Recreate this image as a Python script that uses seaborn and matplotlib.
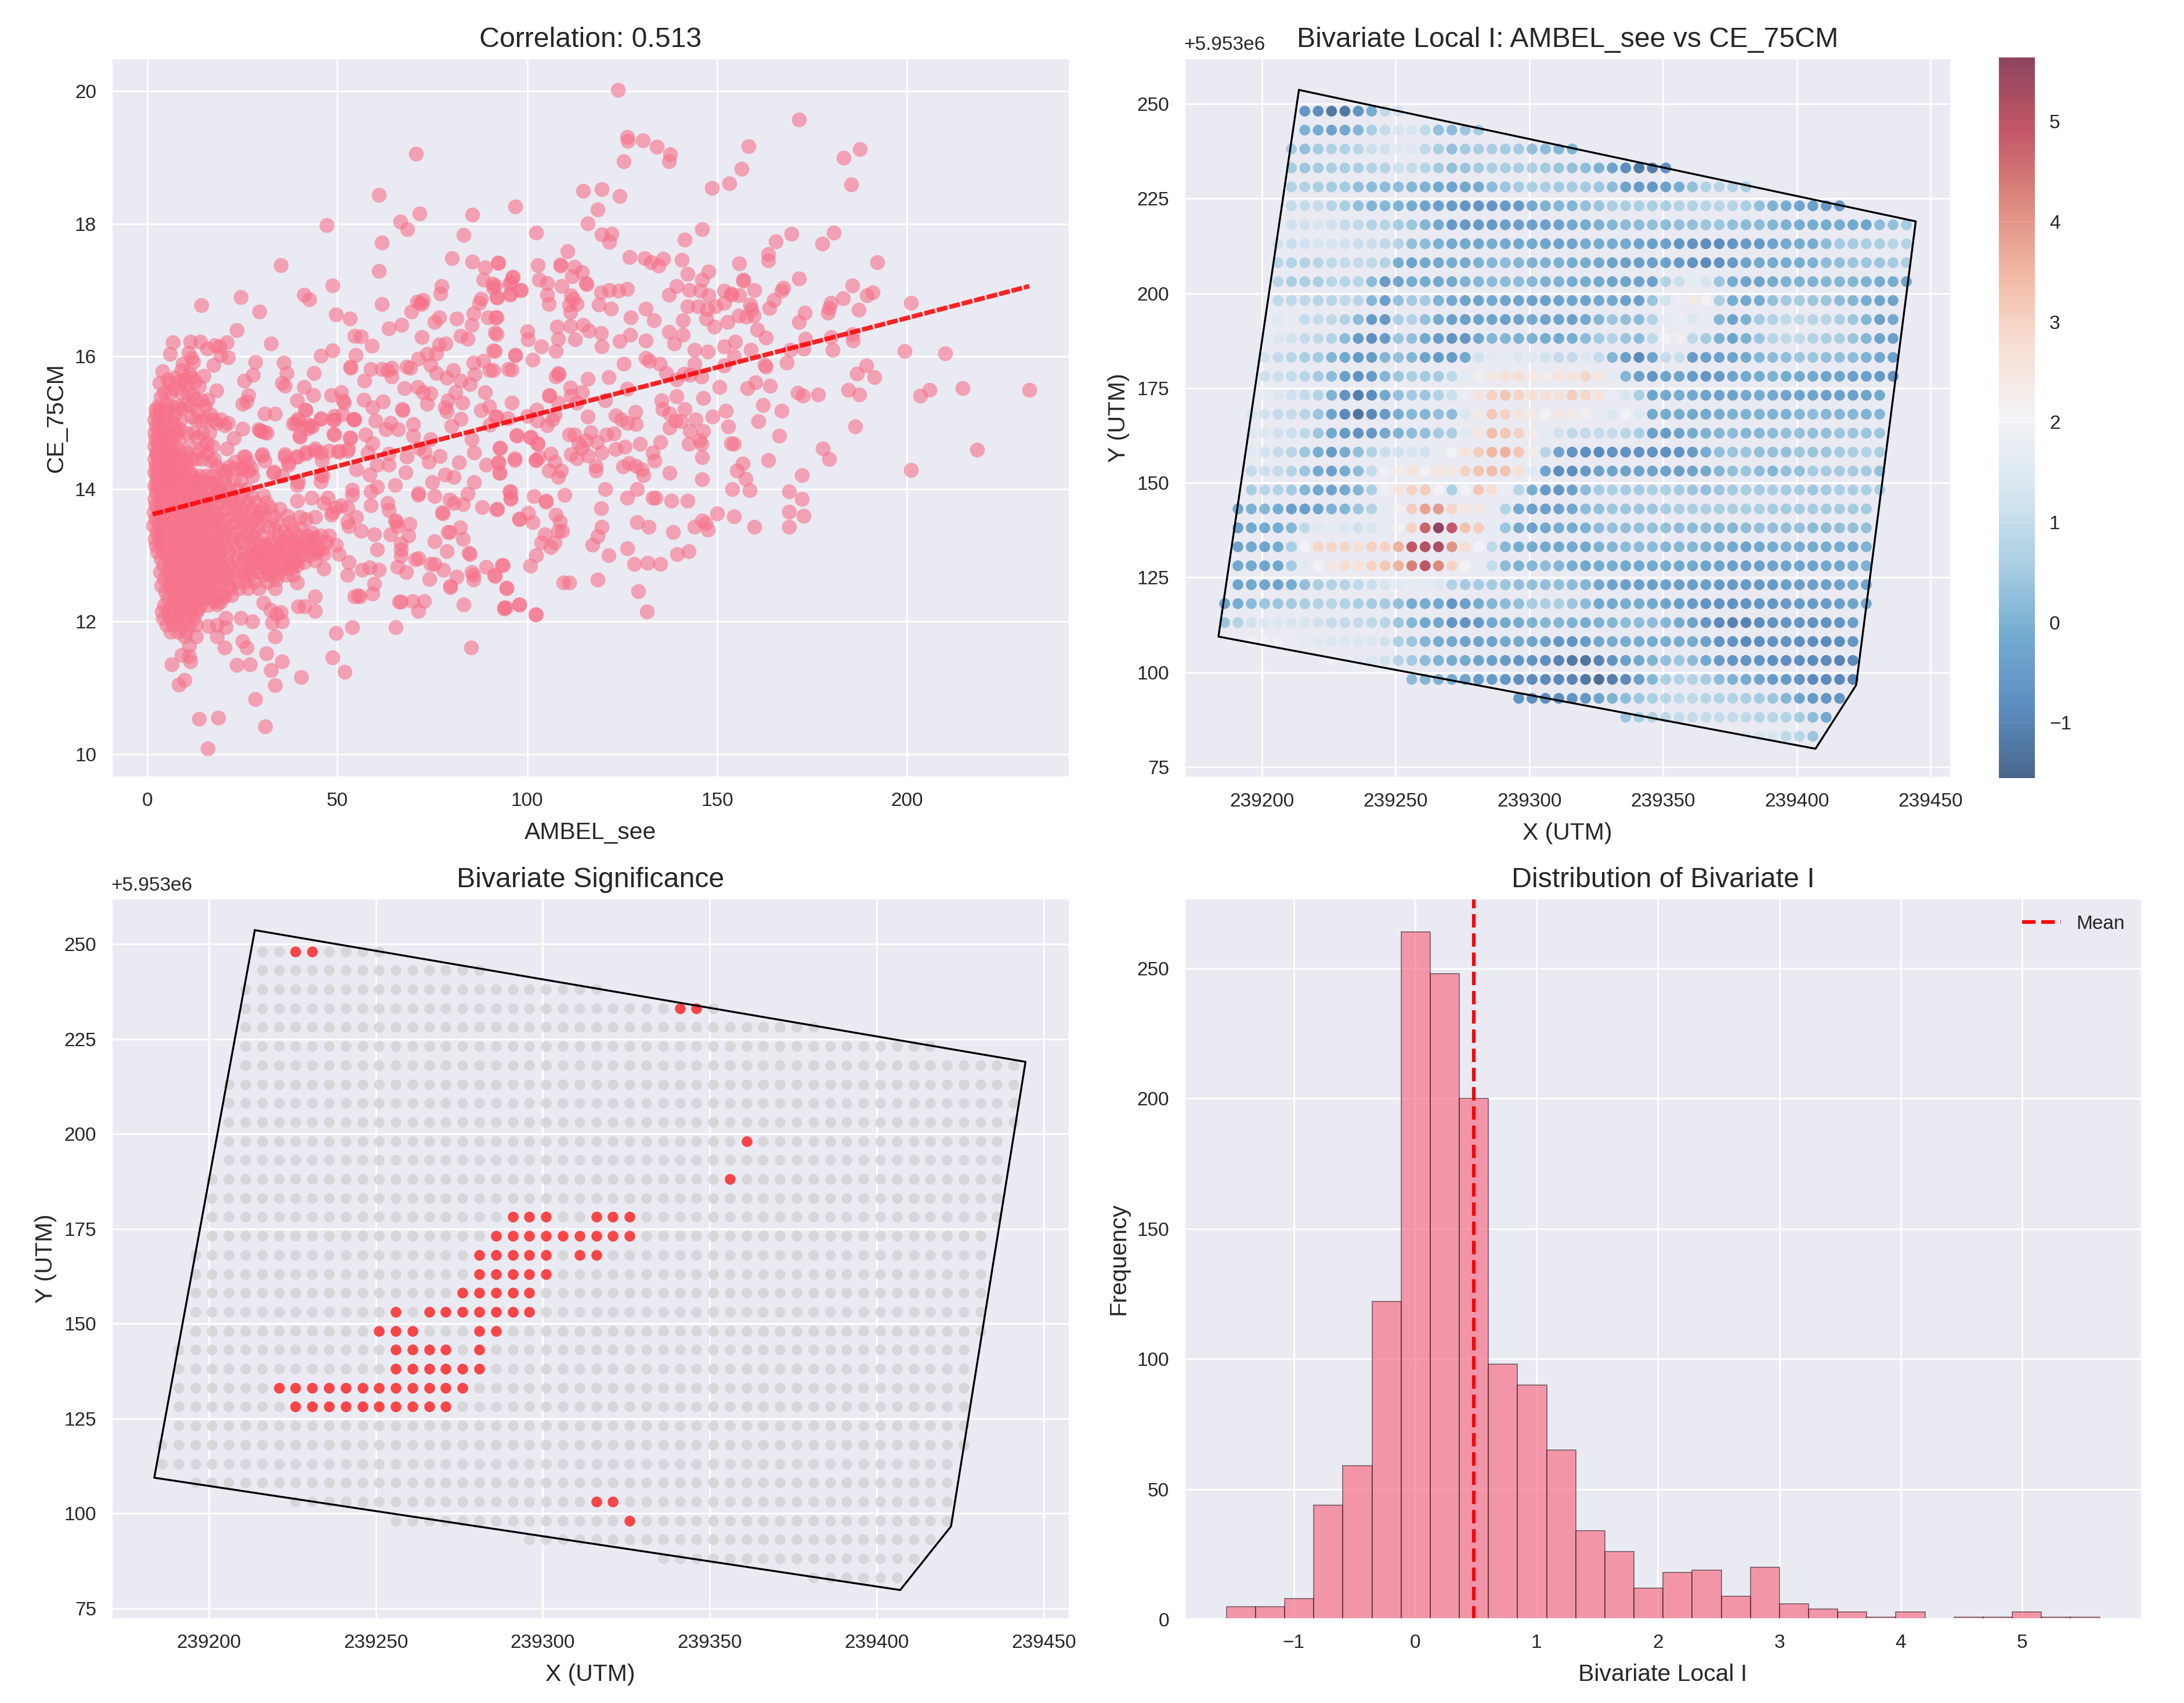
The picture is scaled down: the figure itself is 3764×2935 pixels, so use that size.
import numpy as np
import pandas as pd
import seaborn as sns
import matplotlib
matplotlib.use("Agg")
import matplotlib.pyplot as plt
from matplotlib.cm import ScalarMappable
from matplotlib.colors import Normalize

# ---------- panel 1: scatter points ----------
upper_points = [
(123.9,20.02),(171.6,19.57),(126.3,19.31),(126.5,19.25),(130.4,19.26),(134.2,19.16),(137.6,19.05),(137.3,18.94),(125.5,18.94),(158.2,19.17),
(156.4,18.83),(153.3,18.61),(148.7,18.54),(187.6,19.13),(183.3,19.0),(185.3,18.59),(114.8,18.5),(119.7,18.52),(124.3,18.42),(118.6,18.22),
(116,18.01),(96.9,18.26),(102.3,17.87),(119.6,17.84),(122.3,17.85),(121.6,17.73),(146.1,17.92),(141.5,17.76),(169.6,17.85),(165.5,17.74),
(180.7,17.87),(177.6,17.7),(163.5,17.54),(163.5,17.45),(110.6,17.59),(127,17.5),(130.9,17.48),(132.6,17.42),(135.8,17.47),(134.6,17.37),
(140.7,17.46),(192.2,17.42),(155.9,17.4),(92.5,17.41),(102.9,17.38),(108.8,17.39),(108.8,17.37),(112.4,17.35),(114.5,17.27),(111.8,17.21),
(171.6,17.18),(96.1,17.19),(147.8,17.28),(142.3,17.25),(156.9,17.16),(156.9,17.14),(185.6,17.07),(103.2,17.16),(105.2,17.11),(115.5,17.11),
(115.7,17.09),(95.4,17.09),(91.5,17.07),(139.3,17.06),(146.1,17.16),(142.7,17.0),(145.6,16.99),(151.8,16.99),(153.7,16.95),(153.9,16.93),
(159.8,17.0),(167.5,17.04),(167,16.99),(191,16.97),(189.5,16.92),(183.1,16.88),(126.3,17.02),(124,16.99),(121.6,17.0),(119.4,16.97),
(98.3,17.0),(95.5,16.93),(92,16.9),(109.1,17.06),(105.2,16.93),(105.7,16.79),(111.6,16.92),(112.1,16.87),(113.1,16.79),(111.1,16.78),
(111.4,16.67),(118.9,16.78),(122.1,16.72),(137.3,16.93),(147.8,16.92),(155.9,16.92),(165,16.85),(163.7,16.73),(179.9,16.81),(179.5,16.73),
(179.2,16.66),(187.3,16.7),(201,16.81),(142.3,16.76),(145,16.76),(149.6,16.76),(151.8,16.81),(147.4,16.71),(131.2,16.72),(158.8,16.78),
(159.1,16.71),(159.6,16.62),(157.6,16.6),(155.7,16.62),(173.1,16.66),(171.6,16.52),(127.3,16.59),(133.4,16.55),(141,16.55),(147.1,16.57),
(152.7,16.52),(149.3,16.45),(160.6,16.41),(162.8,16.28),(92,16.59),(107.8,16.45),(111.4,16.46),(114.7,16.48),(116.3,16.39),(119.4,16.35),
(100,16.38),(100.3,16.26),(92,16.34),(137.3,16.37),(141,16.33),(138.7,16.2),(127.1,16.33),(124.3,16.23),(108.1,16.27),(112.6,16.26),
(119.7,16.15),(131.2,16.24),(103.7,16.15),(107.6,16.08),(96.9,16.02),(91.5,16.08),(101.5,15.95),(154.7,16.22),(151.8,16.15),(144.1,16.1),
(147.6,16.07),(158.9,16.1),(173.3,16.27),(172.8,16.12),(169.2,16.1),(179.9,16.29),(180.4,16.1),(185.6,16.34),(185.8,16.24),(199.3,16.08),
(210,16.05),(131.2,15.98),(132.2,15.93),(134.9,15.89),(125.5,15.89),(154.5,16),(151.8,15.86),(144.1,15.89),(162.5,15.87),(162.8,15.85),
(168.4,15.91),(95.9,15.8),(91,15.79),(108.1,15.75),(108.3,15.73),(107.6,15.7),(116,15.66),(121.4,15.69),(136.6,15.75),(189.3,15.86),
(186.8,15.74),(191.4,15.69),(139.3,15.65),(141.3,15.74),(145.9,15.7),(142.9,15.72),(150.6,15.54),(160.1,15.61),(157.9,15.52),(164,15.56),
(111.4,15.53),(114.5,15.46),(105.9,15.42),(126.3,15.51),(171.2,15.45),(172.7,15.41),(176.6,15.43),(184.6,15.5),(187.5,15.43),(205.9,15.5),
(203.5,15.41),(214.7,15.52),(232.2,15.5),(146.4,15.37),(139.3,15.4),(135.4,15.34)]

right_low_points = [
(162.1,15.27),(167,15.18),(152.3,15.18),(148.8,15.09),(135.6,15.21),(137.5,15.14),(141.5,15.21),(139,15.03),(140.5,15.02),(144.4,15.05),
(137.5,14.93),(128.5,15.16),(128.7,14.98),(123.3,15.11),(124.8,15.05),(126.3,15),(116,15.09),(160.9,15.02),(152.9,14.94),(186.4,14.94),
(166.3,14.8),(142.9,14.87),(146.4,14.87),(145.4,14.73),(142.5,14.68),(145.9,14.68),(153.7,14.69),(154.5,14.68),(177.9,14.61),(179.5,14.45),
(218.4,14.59),(201,14.29),(163.5,14.44),(156.7,14.38),(155.2,14.28),(157.5,14.16),(158.6,13.98),(154,14),(146.1,14.48),(146.1,14.15),
(137.5,14.24),(172.4,14.21),(168.9,13.96),(172.4,13.85),(168.9,13.66),(172.8,13.6),(168.9,13.43),(159.8,13.43),(154.5,13.59),(150.1,13.63),
(146.1,13.53),(146.9,13.48),(147.6,13.39),(144.1,13.43),(138.4,13.35),(132,13.43),(128.9,13.5),(119.7,13.43),(118.6,13.29),(117.2,13.16),
(126.3,13.11),(121.4,13),(139.5,13.02),(142.6,13.06),(128.2,12.87),(131.7,12.89),(135.1,12.87),(118.6,12.63),(109.6,12.59),(111.1,12.59),
(129.2,12.46),(131.5,12.15),(94.6,12.5),(102.3,12.11),(98,12.26),(93.9,12.21),(94.4,12.21),(100.8,12.84),(93.4,12.85),(102.3,13),
(91.5,12.69),(133.8,13.87),(133.1,13.87),(138,13.82),(142.3,13.82),(126.3,13.87),(128.9,14),(120.5,14),(119.4,13.71),(109.8,13.91),
(105,13.82),(105,13.81),(101.8,13.89),(95.4,13.96),(95.7,13.85),(92,13.69),(98,13.55),(100.3,13.64),(101.5,13.5),(107.6,13.61),
(108.6,13.51),(109.3,13.37),(108.1,13.37),(104.7,13.32),(103.7,13.19),(106.2,13.12),(107.2,13.19),(130.2,14.3),(130.7,14.21),(128.7,14.35),
(126.8,14.39),(125.3,14.34),(133.6,14.43),(133.1,14.55),(135.1,14.71),(129.7,14.68),(125.8,14.64),(123.3,14.6),(118.1,14.28),(118.1,14.35),
(113.5,14.69),(114.5,14.62),(116,14.51),(113,14.46),(111.6,14.52),(115.5,14.73),(116.8,14.86),(118.4,14.71),(119.7,14.55),(111.1,14.82),
(112.5,14.82),(120.9,14.82),(122.8,14.84),(100.8,14.78),(97.4,14.8),(102.9,14.68),(92.9,14.62),(106.2,14.53),(102.3,14.44),(103.2,14.48),
(107.2,14.41),(105.7,14.28),(108.1,14.18),(108.9,14.28),(96.7,14.44),(96.7,14.46),(92.5,14.39),(92.7,14.24),(106.7,15.05),(107.2,15.12),
(105.2,14.96),(102.7,15.03),(102.5,15.2),(105.7,15.41),(111.6,15.41),(108.1,15.3),(113,15.3),(120.6,15.34),(94.9,15.07),(92,15.09)]

left_upper_points = [
(70.8,19.06),(61,18.44),(71.6,18.16),(85.6,18.14),(66.6,18.03),(68.4,17.92),(47.2,17.98),(61.7,17.72),(83.2,17.83),(35.2,17.38),
(61,17.29),(80.2,17.48),(85.6,17.43),(88.9,17.34),(92.3,17.41),(96.2,17.2),(95.6,17.12),(98.4,17),(48.8,17.07),(77.5,17.06),
(77.1,16.95),(72.6,16.85),(71.8,16.81),(71,16.83),(72.2,16.79),(41.2,16.93),(42.7,16.86),(24.6,16.9),(14.3,16.77),(29.5,16.68),
(61.7,16.79),(88.5,17.16),(90.9,17.1),(91,17.04),(87.8,16.87),(87.4,16.81),(92.1,16.89),(95.6,16.95),(69.6,16.68),(49.6,16.63),
(53.3,16.57),(76.9,16.59),(75.7,16.52),(81.4,16.57),(85.8,16.65),(85.4,16.48),(89.7,16.59),(91.7,16.59),(23.5,16.4),(63.6,16.42),
(67,16.48),(54.6,16.31),(56.2,16.3),(72.3,16.29),(91.5,16.36),(32.6,16.2),(59.1,16.16),(82.5,16.31),(84.3,16.27),(78.6,16.2),
(76.9,16.18),(91.1,16.09),(96.9,16.02),(45.7,16.01),(48.8,16.09),(54.9,16.02),(73.6,16.04),(76.1,16.05),(71.4,15.97),(28.4,15.92),
(35.9,15.91),(53.5,15.85),(53.5,15.83),(58.9,15.81),(61.7,15.81),(63.2,15.79),(64.4,15.83),(68.3,15.85),(69.2,15.83),(74.5,15.87),
(76.1,15.75),(85.8,15.91),(88.5,15.93),(86.2,15.73),(90.1,15.79),(95,15.81),(80.6,15.79),(78.8,15.68),(82.5,15.64),(85,15.58),
(43.9,15.75),(36.7,15.75),(27.9,15.72),(25.6,15.64),(35.5,15.6),(36.3,15.56),(57.1,15.64),(64.4,15.7),(41.2,15.54),(43.7,15.42),
(67.7,15.52),(71.2,15.54),(72.6,15.46),(74.5,15.44),(73.7,15.29),(79.2,15.34),(81.1,15.46),(78.4,15.23),(78.8,15.17),(88.9,15.46),
(87.8,15.19),(48.4,15.42),(51.1,15.46),(51.5,15.34),(51.8,15.3),(39.4,15.34),(26.6,15.42),(26.2,15.32),(25,15.29),(41.6,15.2),
(59.3,15.23),(67.1,15.21),(67.2,15.19),(30.9,15.14),(33.6,15.14),(39,14.99),(39.8,15.03),(42.9,14.95),(42.2,14.91),(49.2,15.05),
(45.7,15.07),(54.5,15.05),(60.1,15.03),(62.8,14.9),(82.5,15.06),(91.7,15.09),(90.1,14.97)]

cluster_top_points = [
(6.8,16.21),(11.3,16.22),(13.9,16.22),(17.7,16.17),(19,16.15),(21,16.21),(15.7,16.12),(6,16.04),(10.8,16.06),(11.6,15.98),
(19.3,16.02),(21.3,15.99),(17.5,15.87),(12.1,15.92),(9.3,15.89),(3.97,15.78),(14.8,15.71),(3.2,15.6),(9,15.79),(11.1,15.74),
(7.5,15.69),(12.6,15.63),(10.1,15.57),(6,15.6),(13.6,15.55),(18.2,15.49),(11.6,15.69),(8.6,15.63),(7,15.51),(4.5,15.45),
(3.5,15.39),(12.6,15.36),(14.2,15.34),(15.9,15.35),(11.9,15.42),(2.7,15.25),(5,15.28),(2.4,15.13),(4.7,15.1),(7.3,15.13),
(9.1,15.22),(13.1,15.19),(16.7,15.13),(11.6,15.09),(14.2,15.03),(10.1,15.28),(18.2,15),(21.3,15),(20.3,14.96),(25.1,14.91),
(22.8,14.77),(21,14.61),(29.4,14.9),(31.5,14.85),(30,14.87),(2.9,14.9),(5.3,14.84),(2.9,14.69),(5,14.58),(8.6,14.9),
(2.4,14.52),(7.5,14.52),(13.1,14.78),(15.7,14.69),(13.6,14.58),(11.6,14.46),(10.1,14.43),(15.7,14.55),(16.7,14.43),(2.9,14.37),
(5.9,14.34),(2.4,14.23),(5.5,14.2),(8.6,14.23),(11.6,14.23),(13.6,14.11),(2.4,14.05),(6.5,14.05),(10.1,14.02),(12.1,14),
(18.2,14.34),(19.8,14.29),(18,14.11),(18.2,14),(25.9,14.49),(24.9,14.31),(27.4,14.31),(26.4,14.4),(23.3,14.31),(22.8,14.14),
(30.2,14.52),(30.9,14.43),(36.3,14.52),(37.1,14.4),(39.4,14.49),(41.7,14.56),(44.2,14.61),(45.7,14.55),(47.8,14.58),(50.3,14.58),
(52.9,14.61),(46,14.43),(46.2,14.2),(33.3,14.26),(35.5,14.2),(39.8,14.11),(49,14.83),(53.4,14.78),(40.1,14.8),(38.3,14.99),
(39.6,15.06),(41.7,15.19),(42.4,14.97),(43.4,14.94),(45.7,15.06),(49,15.04),(54.4,15.06),(51.3,15.13)]

lower_points = [
(15.9,10.09),(13.6,10.53),(18.6,10.55),(31,10.42),(28.4,10.83),(8.3,11.05),(9.8,11.12),(6.5,11.36),(33.7,11.04),(40.5,11.16),
(32.6,11.27),(35.5,11.4),(51.9,11.24),(48.8,11.46),(23.5,11.35),(27,11.36),(31.3,11.52),(85.2,11.61),(11.4,11.4),(11,11.48),
(9,11.5),(11,11.64),(9.8,11.78),(12.9,11.78),(20.3,11.61),(18.4,11.78),(25,11.71),(26.2,11.61),(33.6,11.78),(16.1,11.93),
(18.4,11.95),(20.7,12.06),(20.7,11.92),(24.6,12.06),(27.6,12),(32.8,11.99),(35.5,12),(35.2,12.14),(49.6,11.83),(54,11.92),
(65.4,11.92),(71.4,12.16),(72.9,12.31),(69.8,12.31),(66.3,12.3),(66.7,12.3),(56,12.38),(55.4,12.4),(54.6,12.38),(59.3,12.42),
(59.7,12.57),(83.2,12.26),(94,12.2),(98,12.26),(102.2,12.11),(94.6,12.51),(79.8,12.52),(79.8,12.54),(74.3,12.64),(81.4,12.68),
(85.8,12.7),(85.8,12.63),(85.4,12.75),(91.3,12.7),(89.3,12.83),(93.6,12.85),(78,12.78),(75.7,12.87),(74.5,12.87),(65.8,12.83),
(68.1,12.75),(58.5,12.82),(60.9,12.78),(56.6,12.78),(52.7,12.7),(53.1,12.9),(46.5,12.8),(44.1,12.92),(39.4,12.59),(44.1,12.38),
(44.1,12.16),(41.4,12.23),(39.8,12.23),(30.5,12.28),(32.4,12.18),(34,12.12),(29.3,12.5),(33.6,12.5),(34,12.63),(34.4,12.71),
(20.3,12.38),(18.4,12.26),(13.3,12.19),(30.9,12.82),(28.5,12.89),(29.3,12.75),(39.4,12.85),(37.5,12.85),(39.4,12.92),(71.4,12.96),
(70.6,12.94),(66.7,13.09),(66.7,12.99),(60.5,13.09),(50.4,13.02),(44.5,13.04),(46.5,13.02),(78.8,13.06),(84.6,13.04),(83.1,13.25),
(85,13.02),(75.7,13.21),(79.2,13.35),(82.3,13.42),(79.6,13.35),(68.7,13.3),(66.7,13.18),(59.7,13.32),(64,13.32),(65.9,13.44),
(65.6,13.51),(69.1,13.47),(56.2,13.37),(53.1,13.44),(55,13.58),(65.2,13.53),(63.6,13.68),(63.2,13.79),(52.7,13.72),(51.1,13.75),
(48.8,13.65),(77.6,13.65),(77.7,13.63),(80.7,13.79),(83.1,13.77),(79.6,13.84),(88.2,13.73),(92.1,13.7),(84.3,13.93),(75.7,13.89),
(71.4,13.94),(71.4,13.91),(65.2,14.06),(58.9,13.96),(60.5,14.03),(58.9,13.75),(58.5,14.22),(53.9,13.99),(53.9,13.91),(95.6,13.96),
(95.6,13.87),(97.9,13.54),(43.3,13.87),(47.6,13.87),(46.5,13.79),(49.6,13.72),(44.1,13.58),(41.8,13.54),(39.4,13.82),(39.4,14.06),
(48.4,13.61),(45.7,14.11),(45.7,14.22),(40.2,13.58),(43.3,13.34),(52.7,13.51),(32.4,13.72),(34.8,13.7),(28.9,13.58),(29.3,13.65),
(32,13.42),(36.3,13.37),(38.7,13.2),(40.2,13.13),(37.1,13.16),(35.5,13.2),(41.8,13.16),(42.6,13.23),(44.1,13.27),(45.7,13.3),
(44.9,13.09),(49.6,13.16),(30.9,13.16),(32.4,13.2),(30.1,13.02),(28.5,13.02),(31.6,12.95),(34,13.02),(37.1,12.99),(38.7,12.89),
(35.5,12.89),(23.1,14.41),(25.4,14.49),(26.6,14.27),(27.7,14.2),(30.1,14.51),(20.7,14.27),(21.5,14.34),(25,14.3),(24.6,14.13),
(33.2,14.24),(36.3,14.49),(37.1,14.37),(39.4,14.49),(41.8,14.53),(44.1,14.58),(50.4,14.56),(52.7,14.58),(53.5,14.77),(57.4,14.82),
(59.3,14.69),(60.5,14.37),(63.6,14.37),(63.6,14.53),(68.3,14.49),(73,14.56),(74.1,14.41),(74.5,14.75),(78.4,14.22),(80.7,14.18),
(85.4,14.75),(92.8,14.62),(92.5,14.41),(89.3,14.37),(92.8,14.24),(97.1,14.81),(101,14.79),(102.6,14.69),(102.2,14.44),(49.2,14.82),
(49.2,15.1),(54.2,15.05),(30.9,14.86),(29.7,14.88),(40.2,14.79),
(62,15.32),(66,14.9),(70,14.98),(58,14.55),(80,14.95),(86,14.55),(75,14.1),(68,14.25),(86,14.1),(57,15.35),
(64,15),(71.5,14.62),(83,15.3),(90,15.25),(96,15.3),(100,15.1),(55,14.3),(70,14.8),(77,14.5),(82,14.4)]

dense_levels = [15.2,15.05,14.95,14.85,14.75,14.65,14.55,14.45,14.35,14.25,14.15,14.05,13.95,13.85,13.75,13.65,13.55,13.45,13.35,13.25,
                13.15,13.05,12.95,12.85,12.75,12.65,12.55,12.45,12.35,12.25,12.15,12.05,11.95,11.85]
dense_ambel = [
[2.1,3.4,5.2],[1.9,3.1,4.4,6.1],[2.3,3.6,5.1,7.2],[1.8,2.9,4.2,5.7,7.9],[2.2,3.3,4.8,6.4,8.3],[1.9,3,4.1,5.6,7.4],
[2.4,3.5,5,6.7,8.4,10.2],[1.8,2.9,4.3,5.8,7.6,9.3],[2.2,3.4,4.9,6.2,8.1,10.4],[1.9,3.1,4.6,6.5,7.8,9.7,11.2],
[2.5,3.7,5.3,7,8.8,10.6,12.9],[1.8,3,4.4,6,7.7,9.4,11.8,13.6],[2.3,3.5,5.1,6.8,8.5,10.2,12.1,14.3,15.8],
[1.9,3.2,4.7,6.3,8,9.9,11.5,13.2,15.1,17],[2.1,3.6,5.4,7.1,8.8,10.7,12.6,14.5,16.4,18.2],
[1.7,3,4.5,6.1,7.9,9.6,11.4,13.3,15.4,17.3,19.2],[2.2,3.8,5.5,7.3,9.1,11,12.8,14.7,16.6,18.5,20.6],
[1.6,2.9,4.3,6,7.8,9.9,11.9,13.8,15.8,17.7,19.6,21.8],[2.4,3.9,5.6,7.5,9.3,11.2,13,15,16.9,18.9,20.8,22.9],
[2,3.3,4.8,6.6,8.4,10.3,12.4,14.2,16.1,18,20,22.1,24.3],[2.3,3.7,5.4,7.2,9,11,12.9,14.8,16.7,18.6,20.7,23],
[2.6,4.1,6,7.9,9.7,11.6,13.6,15.5,17.4,19.3,21.4,24,26],[3.5,5.6,7.4,9.4,11.3,13.1,15.2,17.1,19,21,23.4,25.6],
[4.2,6.2,8.1,10,12,13.9,15.8,17.8,19.8,21.9,24.2],[3.4,5.4,7.3,9.2,11.1,13,15,16.9,18.9,20.9,23,25.1],
[4.5,6.3,8.2,10.3,12.2,14.1,16,18,20,22],[3.7,5.8,7.7,9.6,11.5,13.5,15.4,17.3,19.4,21.4],
[4.8,6.7,8.6,10.6,12.5,14.4,16.3,18.3],[5.4,7.4,9.3,11.3,13.2,15.1,17],[4.5,6.3,8.2,10.1,12.1,14,15.9],
[3.8,5.5,7.2,9.1,11.2,13],[4.2,6.1,8,10,12.2],[5,6.9,9,11,12.8],[6.2,8,10.2]]

outer_levels = [15.65,15.45,15.25,15.05,14.85,14.65,14.45,14.2,14.1,14.0,13.9,13.8,13.7,13.6,13.5,13.4,13.3,13.2,13.1,13.0,12.9,12.8,12.7,12.6,12.5,12.4,12.3]
outer_ambel = [
[5.3,9.8],[6.1,8.9,10.6],[6.4,8.2,11.3,15.1],[8.8,12.7,15.4,17.4,19.4],[10.4,12.2,14.6,16.3],[11.2,14.8,17.1],[12.9,14.4,17.6],[13.8,15.5,17.1,20.6],
[15.2,17.5,20.2],[16.5,19.1,21.4,23.6,26.2],[18.9,20.7,22.5,24.8,27.3,30.5],[20,22.1,24,26.2,28.4,31.3],[21,23.2,25.3,27.5,30.1],
[22.4,24.5,26.6,30.7,33.2,36.9],[23.4,25.6,27.7,29.9,34.1,37.5],[24.6,26.8,28.9,33.4,38.2,40.4],[25.8,27.9,30.2,34.5,36.9,39.7,42.1,47.8],
[25.1,27.2,29.1,33.5,36.1,39.2,43.9,47.2],[27.8,29.6,31.9,34.2,36.6,38.9,41.1,43.2,46.1],[26.9,28.9,31.2,33.3,35.8,38.1,40.5,42.6],
[27.5,29.8,32.2,34.7,36.8,41.2],[26.3,27.9,31.5,33.5,35.4,37.9],[25.6,27.1,30.7,32.4,36.6,38.3],[23.6,25.9,28.2,31.5],[21.8,24.2,26.4],[19.7,22.1],[17.9,19.3]]

line_slope = 0.0149
line_intercept = 13.6

# ---------- panel 2 / 3: 5 m grid, values ----------
first_col = [0,0,-1,-1,-1,-1,-1,-2,-2,-2,-2,-2,-3,-3,-3,-3,-4,-4,-4,-4,-4,-5,-5,-5,-5,-5,-6,-6,-4,2,8,16,24,33]
local_i = [
[-.6,-.8,-1.2,-1.2,-.7,-.1,.9,1.2],
[0,-.1,-.3,-.2,.1,.6,1,1.3,1.3,.9,.3,.2,.4,.5],
[.5,.3,.5,.7,.7,.8,1.1,1.2,1.5,1.4,.9,.6,.3,.5,.6,.6,.5,.5,.3,.2,.1,0],
[.5,.4,.5,.6,.6,.6,.7,.8,1.1,1,.8,.5,.3,.4,.5,.6,.6,.6,.6,.5,.4,.3,.2,0,-.3,-.8,-1.2,-1.1,-.8],
[.7,.7,.6,.5,.5,.3,.2,.2,.2,.1,0,-.2,-.3,-.2,-.1,.2,.4,.5,.6,.6,.5,.5,.5,.4,.2,-.3,-.5,-.6,-.4,-.1,.3,.7,.8,.7,.6],
[1,1,1,.8,.6,.3,.1,.1,0,-.1,-.3,-.4,-.5,-.6,-.6,-.6,-.5,-.5,-.2,0,.1,.1,.3,.4,.6,.6,.6,.6,.6,.7,.7,.8,.8,.8,.6,.3,0,-.1,-.3,-.4,-.5,-.5],
[1.2,1.2,1.3,1.2,1,.9,.7,.8,.5,.4,.1,-.2,-.5,-.5,-.5,-.5,-.4,-.4,-.4,-.4,-.3,-.2,-.1,0,.1,.2,.2,.3,.2,.3,.3,.4,.4,.3,.2,.2,.1,0,-.1,-.1,-.1,-.1,-.2,-.3,.2,.3,.5],
[1.2,1.1,1.2,1.3,1.3,1.2,1.1,1.1,.9,.7,.3,.2,0,-.2,-.2,-.2,-.1,-.2,-.2,-.2,-.3,-.3,-.3,-.1,-.1,-.1,-.2,-.3,-.4,-.4,-.6,-.7,-.8,-.8,-.6,-.5,-.5,-.3,-.2,-.1,-.1,.2,.5,.5,.6,.6,.8,.7],
[.8,.7,.7,.8,.9,1,1,.9,.7,-.1,-.3,-.2,-.2,-.1,-.1,0,.1,.2,.1,0,0,0,-.1,-.1,-.2,-.3,-.4,-.4,-.4,-.4,-.5,-.7,-.9,-.7,-.5,-.3,-.2,-.1,-.1,-.1,0,.2,.3,.4,.4,.4,.5,.6],
[.8,.6,.6,.6,.8,.8,.8,.2,-.5,-.3,-.1,-.1,-.2,-.2,0,.1,.2,.2,.2,.1,0,0,-.1,-.1,-.2,-.3,-.3,-.3,-.4,.7,1.1,1.6,1.3,.4,-.1,-.3,-.3,-.1,0,0,0,.1,.1,.1,0,-.1,-.1,-.3],
[.9,.9,.9,.8,.8,.9,.8,.1,-.4,.3,.5,.5,0,-.2,-.3,-.3,-.2,-.3,-.3,-.4,-.4,-.3,-.3,-.3,-.2,-.2,-.4,-.4,.4,1.2,1.8,2.4,2.1,.6,-.1,-.2,-.1,.3,.5,.5,.4,.4,.2,.1,-.1,-.3,-.3],
[1.5,1.7,1,1,.9,.7,.2,-.5,-.5,.6,.7,.3,-.2,-.4,-.4,-.3,-.3,-.4,-.3,-.2,-.3,-.3,-.4,-.2,.1,.4,.3,.2,.7,1.6,1.8,1.4,1.7,.1,-.3,0,.5,.7,.9,.9,.8,.8,.6,.4,.1,-.4,-.2],
[1.6,1.4,1.2,1,.9,.7,.2,-.5,-.8,-.5,.4,.3,-.2,-.5,-.7,-.6,-.2,.1,.1,0,0,-.1,-.2,-.1,.2,.5,.7,.4,.2,.9,2,2.2,.9,.5,0,-.3,0,.4,.8,.9,.9,.7,.6,.6,.4,.1,-.3,-.4],
[1.2,1,.8,.6,.5,.1,-.2,-.5,-.5,.1,.3,.1,-.3,-.5,-.5,-.2,1.2,1.6,1.6,1.4,1.5,1.2,1,1,1.4,1,.1,-.4,-.9,-.3,1,1.1,-.5,-.4,-.4,-.3,-.2,.1,.2,.3,.4,.4,.3,.3,.2,0,-.2,-.4],
[1.1,1.1,1,.8,.5,.2,-.4,-.7,-.5,.1,.4,.6,.5,.5,.9,1.6,2.2,2.5,2.7,2.8,2.4,2.3,2.6,2.6,2.9,2.5,1.6,.1,-.4,-.6,-.3,-.3,-.5,-.6,-.5,-.3,-.2,-.1,0,-.1,-.2,-.2,-.3,-.3,-.4,-.4,-.5,-.7],
[1.6,1.4,1.2,1,.7,0,-.7,-1.1,-.8,-.2,.3,.5,.4,.7,1.1,1.8,2.6,3,3.2,3,2.8,2.7,2.7,3.1,2.9,2.6,1.8,1.3,.6,-.3,-.2,-.1,-.2,-.3,-.3,-.3,-.2,-.1,-.2,-.3,-.3,-.3,-.4,-.4,-.4,-.3,-.2],
[1.3,1.2,1,1,.8,.4,-.3,-.9,-1.3,-.9,-.5,-.1,.1,.1,.3,.2,1.4,2.4,3.2,3,2.6,2.4,2.1,2.5,2.4,2.2,1.7,1.4,2,1.4,-.2,-.2,-.1,-.2,-.2,-.1,0,0,0,0,0,.1,.2,.1,.1,.1,0,.1],
[1.5,1.4,1.2,1.1,.9,.4,-.2,-.5,-.7,-.6,-.2,0,.2,.3,.5,.6,1.5,2.5,3.4,3.2,3,2.3,1.6,1.2,.9,1,1,1,.8,.6,-.4,-.5,-.3,-.1,0,.1,.2,.1,.1,.2,.3,.3,.3,.3,.4,.4,.4,.4],
[1.5,1.2,1,.8,.4,-.1,-.5,-.1,.3,.7,1.1,1.2,1.3,1.2,1.6,2,2.6,3.1,3.5,3.6,3.2,2.3,.8,-.3,-.7,-.8,-.9,-.7,-.7,-.7,-.7,-.8,-.7,-.5,-.1,.3,.4,.4,.3,.3,.3,.4,.4,.4,.5,.6,.7,.6],
[1,1.1,1,.7,.4,-.2,-.4,-.1,.2,1,1.9,2.3,2.6,2.1,2.5,2.5,3,3.3,3.4,3.3,2.7,1.5,-.3,-.8,-.8,-.5,-.3,-.3,-.3,-.3,-.3,-.4,-.4,-.3,-.2,.1,.3,.4,.2,.1,.3,.3,.5,.5,.5,.5,.5,.3],
[.6,.8,.7,.5,.1,-.2,-.3,-.2,.1,.6,1.9,2.6,3,3.1,2.1,.6,2,3.2,2.8,1.8,.8,-.1,-.5,-.6,-.4,.2,.5,.6,.5,.5,.6,.6,.5,.4,.3,.4,.5,.6,.5,.6,.5,.5,.4,.5,.6,.6,.6,.6],
[-.2,0,.1,-.1,-.4,-.4,-.3,0,.1,.4,.7,1.6,2.2,3.1,3.8,3.9,2.9,2.5,2.5,1.7,.7,-.1,-.4,-.4,-.3,-.2,.2,.3,.4,.4,.4,.4,.5,.6,.6,.6,.6,.6,.6,.6,.5,.5,.5,.5,.5,.5,.5,.5],
[-.4,-.2,-.2,-.1,.1,.9,1.5,1.6,1.4,1.2,1.3,1.7,2.1,3,4.7,5.6,4.9,3.3,3.1,1.6,.4,-.2,-.4,-.2,-.1,-.1,0,.2,.3,.3,.3,.3,.3,.2,.2,.2,.1,.1,.2,.3,.3,.3,.3,.2,.2,.3,.3,.3],
[-.3,-.2,-.3,-.1,.6,2,2.9,2.9,2.9,2.7,3,3,3.6,4.9,5.1,5.2,4,2.8,2,.9,.1,-.1,-.2,-.2,-.2,-.2,-.2,0,.1,.2,.2,.2,.1,.1,.1,0,-.1,-.2,-.3,-.2,-.1,0,-.1,-.1,-.1,-.1,-.2,0],
[-.2,-.2,-.3,-.2,.5,1.5,2.1,2.5,2.8,2.7,3,3.2,3.6,4.3,5,4.2,3,2.1,1.7,1,.2,0,.1,.2,.1,-.1,-.2,-.1,-.1,-.2,-.2,-.2,-.2,-.2,-.2,-.3,-.3,-.4,-.4,-.4,-.3,-.3,-.3,-.3,-.2,-.2,-.2,0],
[-.3,-.2,-.3,-.3,-.1,.3,.6,.7,.8,.9,1.1,1.3,1.5,1.6,1.6,1.4,.7,.5,.5,.5,.4,.3,.3,.3,.3,.2,.1,-.2,-.3,-.4,-.4,-.4,-.4,-.4,-.4,-.4,-.5,-.5,-.5,-.5,-.5,-.4,-.4,-.4,-.4,-.3,-.2,-.3],
[-.3,-.1,.2,.4,.4,.5,.6,.7,.8,.7,.6,.5,.5,.3,-.1,-.1,-.2,-.6,-.4,-.1,.1,.2,.3,.5,.6,.6,.4,.2,-.2,-.2,-.1,-.1,-.2,-.3,-.4,-.5,-.7,-.7,-.7,-.7,-.6,-.6,-.5,-.5,-.5,-.5,-.4,-.3,-.2],
[.4,.7,1.2,1.4,1.4,1.3,1.3,1.2,1,1,1,.9,.8,.4,.1,-.2,-.2,-.6,-.7,-.5,-.2,-.2,-.1,0,.1,.1,0,-.1,0,.1,.2,.2,.2,.1,-.1,-.3,-.6,-.9,-1,-1,-.8,-.7,-.6,-.6,-.7,-.7,-.6,-.4],
[2,1.9,1.9,1.8,1.6,1.5,1.4,1.4,1.4,1.4,1.2,.6,.4,.1,-.1,-.2,-.3,-.3,-.3,-.2,-.2,-.3,-.4,-.6,-.7,-.5,-.2,-.1,-.1,-.1,-.1,-.1,-.1,-.1,-.4,-.7,-.7,-.9,-.8,-.7,-.7,-.8,-.8,-.9,-.8,-.6],
[1.9,1.7,1.6,1.4,1.2,.7,.5,.2,0,-.1,-.2,-.3,-.4,-.5,-.6,-.7,-.8,-1,-1.2,-1.3,-1,-.7,-.4,-.2,0,.3,.4,.2,-.2,-.5,-.6,-.7,-.7,-.8,-.8,-.8,-.9,-.9,-1,-.9],
[.2,.1,0,-.1,-.3,-.5,-.5,-.6,-.8,-.9,-.9,-.9,-1,-1.2,-1.4,-1.1,-.9,-.4,.1,.6,.7,.7,.5,.2,0,-.1,-.3,-.5,-.5,-.7,-.9,-.9,-.9,-1],
[-.6,-.8,-.8,-.8,-.7,-.6,-.3,0,.2,.4,.6,.8,.9,.9,.8,.7,.7,.6,.5,.4,.1,-.3,-.5,-.6,-.6],
[.4,.6,.7,.9,1,1,1,1,1,.9,.8,.8,.7,.5,.2,-.2],
[1.4,1.3,1.3,.9,.8,.4]]

# (row, columns) of the red, significant cells
significant_cells = {0:[2,3],3:[25,26],10:[29],12:[28],14:[15,16,17,20,21,22],15:[14,15,16,17,18,19,20,21,22],
 16:[13,14,15,16,17,19,20],17:[13,14,15,16,17],18:[12,13,14,15,16],19:[8,10,11,12,13,14,15,16],20:[7,8,9,13,14],
 21:[8,9,10,11,13],22:[8,9,10,11,12,13],23:[1,2,3,4,5,6,7,8,9,10,11,12],24:[2,3,4,5,6,7,8,9,10,11],29:[20,21],30:[22]}

col0_x = 239216.0
row0_y = 5953248.1
grid_step = 5.0
boundary_x = [239213.8,239444.5,239422.2,239407.0,239183.7,239213.8]
boundary_y = [5953253.7,5953219.0,5953096.6,5953079.8,5953109.4,5953253.7]

# ---------- panel 4: histogram counts ----------
hist_counts = [5,5,8,44,59,122,264,248,200,98,90,65,34,26,12,18,19,9,20,6,4,3,1,3,0,1,1,3,1,1]
i_min, i_max = -1.553, 5.637
mean_i = 0.485

# ---------- style ----------
sns.set_theme(style="darkgrid", palette="husl", rc={
    "axes.titlesize":11.6,"axes.titlepad":4.3,"axes.labelsize":9.8,"xtick.labelsize":8,"ytick.labelsize":8,"legend.fontsize":8,
    "xtick.major.size":0,"ytick.major.size":0,"xtick.major.pad":6,"ytick.major.pad":6,"axes.labelpad":3,"grid.linewidth":.7})
plt.rcParams["font.family"] = ["Liberation Sans","DejaVu Sans"]
base = sns.color_palette("husl")[0]

W,H = 3764,2935
fig = plt.figure(figsize=(W/300,H/300),dpi=300)
def box(l,t,r,b): return [l/W,1-b/H,(r-l)/W,(b-t)/H]
ax1 = fig.add_axes(box(191,99,1844,1340))
ax2 = fig.add_axes(box(2040,99,3363,1341))
cax = fig.add_axes(box(3445,99,3507,1341))
ax3 = fig.add_axes(box(191,1547,1844,2791))
ax4 = fig.add_axes(box(2040,1547,3692,2791))
space_ylim = (5953072.05,5953262.27)
space_xlim = (239170.7,239457.8)

# panel 1
dense_points = [(x,lev) for lev,row in zip(dense_levels,dense_ambel) for x in row]
outer_points = [(x,lev) for lev,row in zip(outer_levels,outer_ambel) for x in row]
pts = upper_points+right_low_points+left_upper_points+cluster_top_points+lower_points+dense_points+outer_points
scat = pd.DataFrame(pts,columns=["AMBEL_see","CE_75CM"])
sns.scatterplot(data=scat,x="AMBEL_see",y="CE_75CM",s=38,alpha=.6,color=base,linewidth=0,ax=ax1)
lx = scat["AMBEL_see"].clip(1.4,232.2).to_numpy()
lx = np.r_[1.4,lx,232.2]
ax1.plot(lx,line_intercept+line_slope*lx,color="red",ls=(0,(2.4,0.4)),alpha=.85,lw=1.9)
ax1.set_xlim(-9.6,242.9); ax1.set_ylim(9.65,20.51)
ax1.set_title("Correlation: 0.513")

# grid table
rows=[]
for r,(k0,vals) in enumerate(zip(first_col,local_i)):
    for i,v in enumerate(vals):
        k=k0+i
        rows.append((col0_x+grid_step*k,row0_y-grid_step*r,v,k in significant_cells.get(r,[])))
grid = pd.DataFrame(rows,columns=["x","y","I","sig"])

# panel 2
sns.scatterplot(data=grid,x="x",y="y",hue="I",palette="RdBu_r",hue_norm=(i_min,i_max),s=20,alpha=.7,linewidth=0,legend=False,ax=ax2)
ax2.plot(boundary_x,boundary_y,color="black",lw=.8)
ax2.set_xlim(*space_xlim); ax2.set_ylim(*space_ylim)
ax2.set_title("Bivariate Local I: AMBEL_see vs CE_75CM")
ax2.set_xlabel("X (UTM)"); ax2.set_ylabel("Y (UTM)")
sm = ScalarMappable(norm=Normalize(i_min,i_max),cmap="RdBu_r")
cb = fig.colorbar(sm,cax=cax,alpha=.7)
cb.outline.set_visible(False)
cb.ax.tick_params(length=0,pad=6)

# panel 3
sns.scatterplot(data=grid[~grid.sig],x="x",y="y",color="lightgray",s=20,alpha=.8,linewidth=0,ax=ax3)
sns.scatterplot(data=grid[grid.sig],x="x",y="y",color="red",s=20,alpha=.7,linewidth=0,ax=ax3)
ax3.plot(boundary_x,boundary_y,color="black",lw=.8)
ax3.set_xlim(*space_xlim); ax3.set_ylim(*space_ylim)
ax3.set_title("Bivariate Significance")
ax3.set_xlabel("X (UTM)"); ax3.set_ylabel("Y (UTM)")

# panel 4
edges = np.linspace(i_min,i_max,len(hist_counts)+1)
centers = (edges[:-1]+edges[1:])/2
sns.histplot(x=centers,weights=hist_counts,bins=len(hist_counts),binrange=(i_min,i_max),color=base,alpha=.7,edgecolor=(0,0,0,.5),linewidth=.4,ax=ax4)
ax4.axvline(mean_i,color="red",ls="--",lw=1.5,label="Mean")
ax4.legend(frameon=False,loc="upper right")
ax4.set_ylim(0,277.2); ax4.set_xlim(-1.906,5.988)
ax4.set_title("Distribution of Bivariate I")
ax4.set_xlabel("Bivariate Local I"); ax4.set_ylabel("Frequency")
for a in (ax1,ax2,ax3,ax4):
    a.xaxis.labelpad = 4.7

fig.savefig("out.png",dpi=300,facecolor="white")
